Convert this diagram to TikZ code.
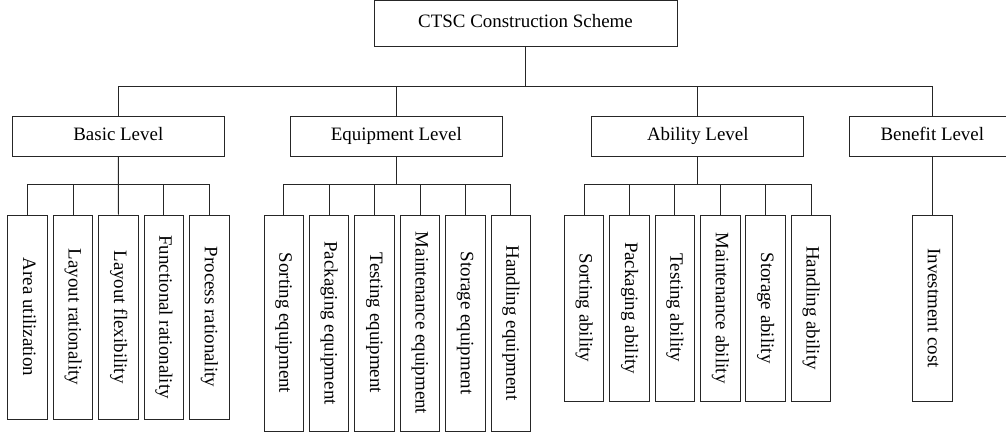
\documentclass[tikz,border=0pt]{standalone}
\usepackage{fontspec}
\setmainfont{Liberation Serif}
\usepackage{tikz}
\begin{document}
\begin{tikzpicture}[x=0.75pt,y=-0.75pt,line width=0.6pt,
    lvl/.style={draw=black!85,inner sep=0pt,text height=0.68em,text depth=0.02em,minimum width=159pt,minimum height=29.5pt},
    itm/.style={draw=black!85,inner sep=0pt,text height=0.68em,text depth=0.02em,rotate=-90,minimum height=29.6pt},
    font=\fontsize{14.2}{17}\selectfont]
            \useasboundingbox (0,0) rectangle (1006,432);
            \node[draw=black!85,text height=0.68em,text depth=0.02em,minimum width=227.25pt,minimum height=34.5pt] (top) at (525.5,23) {CTSC Construction Scheme};
            \node[lvl] (basic) at (118.3,136.3) {Basic Level};
            \node[lvl] (equip) at (396.3,136.3) {Equipment Level};
            \node[lvl] (abil) at (697.8,136.3) {Ability Level};
            \node[lvl,minimum width=124.5pt] (bene) at (932.3,136.3) {Benefit Level};
            \node[itm,minimum width=153pt] (b1) at (27.6,317) {Area utilization};
            \node[itm,minimum width=153pt] (b2) at (73,317) {Layout rationality};
            \node[itm,minimum width=153pt] (b3) at (118.4,317) {Layout flexibility};
            \node[itm,minimum width=153pt] (b4) at (163.8,317) {Functional rationality};
            \node[itm,minimum width=153pt] (b5) at (209.2,317) {Process rationality};
            \node[itm,minimum width=162pt] (e1) at (283.7,323) {Sorting equipment};
            \node[itm,minimum width=162pt] (e2) at (329.1,323) {Packaging equipment};
            \node[itm,minimum width=162pt] (e3) at (374.5,323) {Testing equipment};
            \node[itm,minimum width=162pt] (e4) at (419.9,323) {Maintenance equipment};
            \node[itm,minimum width=162pt] (e5) at (465.3,323) {Storage equipment};
            \node[itm,minimum width=162pt] (e6) at (510.7,323) {Handling equipment};
            \node[itm,minimum width=139.5pt] (a1) at (584,308) {Sorting ability};
            \node[itm,minimum width=139.5pt] (a2) at (629.4,308) {Packaging ability};
            \node[itm,minimum width=139.5pt] (a3) at (674.8,308) {Testing ability};
            \node[itm,minimum width=139.5pt] (a4) at (720.2,308) {Maintenance ability};
            \node[itm,minimum width=139.5pt] (a5) at (765.6,308) {Storage ability};
            \node[itm,minimum width=139.5pt] (a6) at (811,308) {Handling ability};
            \node[itm,minimum width=139.5pt] (c1) at (932.3,308) {Investment cost};
            \draw[black!85] (top.south) -- ++(0,40) -| (basic.north);
            \draw[black!85] (top.south) -- ++(0,40) -| (equip.north);
            \draw[black!85] (top.south) -- ++(0,40) -| (abil.north);
            \draw[black!85] (top.south) -- ++(0,40) -| (bene.north);
            \draw[black!85] (basic.south) -- ++(0,28) -| (b1.west);
            \draw[black!85] (basic.south) -- ++(0,28) -| (b2.west);
            \draw[black!85] (basic.south) -- (b3.west);
            \draw[black!85] (basic.south) -- ++(0,28) -| (b4.west);
            \draw[black!85] (basic.south) -- ++(0,28) -| (b5.west);
            \draw[black!85] (equip.south) -- ++(0,28) -| (e1.west);
            \draw[black!85] (equip.south) -- ++(0,28) -| (e2.west);
            \draw[black!85] (equip.south) -- ++(0,28) -| (e3.west);
            \draw[black!85] (equip.south) -- ++(0,28) -| (e4.west);
            \draw[black!85] (equip.south) -- ++(0,28) -| (e5.west);
            \draw[black!85] (equip.south) -- ++(0,28) -| (e6.west);
            \draw[black!85] (abil.south) -- ++(0,28) -| (a1.west);
            \draw[black!85] (abil.south) -- ++(0,28) -| (a2.west);
            \draw[black!85] (abil.south) -- ++(0,28) -| (a3.west);
            \draw[black!85] (abil.south) -- ++(0,28) -| (a4.west);
            \draw[black!85] (abil.south) -- ++(0,28) -| (a5.west);
            \draw[black!85] (abil.south) -- ++(0,28) -| (a6.west);
            \draw[black!85] (bene.south) -- (c1.west);
        \end{tikzpicture}
\end{document}
